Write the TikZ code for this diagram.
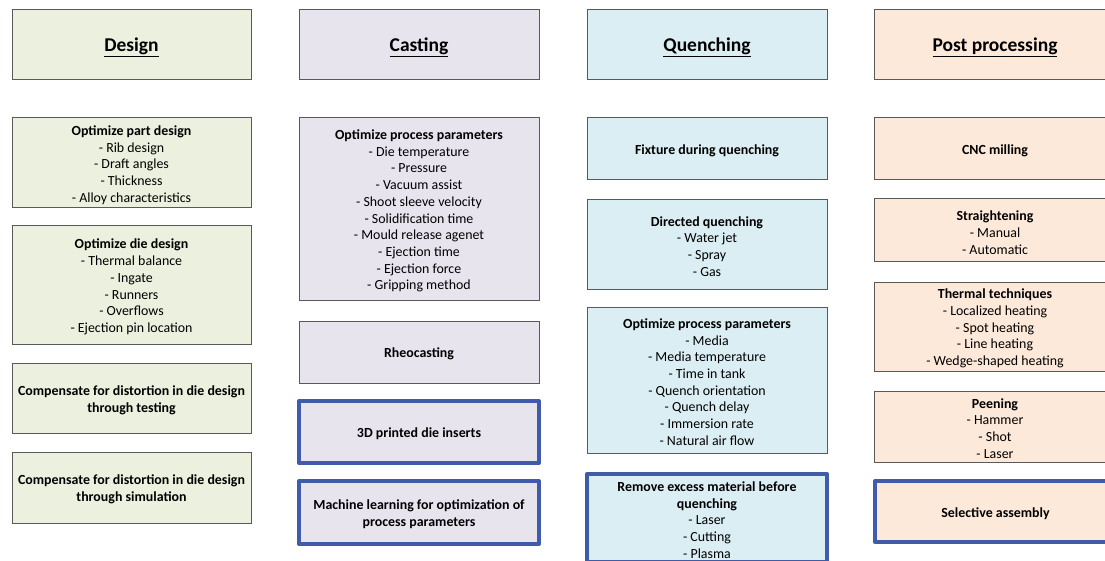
\documentclass[tikz,border=0pt]{standalone}
\usepackage{fontspec}
\setmainfont{Carlito}
\definecolor{dgreen}{HTML}{EBF1DE}
\definecolor{dlav}{HTML}{E8E4EE}
\definecolor{dblue}{HTML}{DBEEF4}
\definecolor{dpeach}{HTML}{FDE9D9}
\definecolor{bgray}{HTML}{595959}
\definecolor{bblue}{HTML}{3F5BA9}
\tikzset{
  box/.style={draw=bgray, line width=1pt, inner sep=0pt},
  txt/.style={inner sep=0pt, align=center, font=\fontsize{13.9}{16.7}\selectfont},
  htxt/.style={inner sep=0pt, align=center, font=\fontsize{19.5}{22}\selectfont\bfseries},
  hl/.style={draw=bblue, line width=4pt, line join=round},
  gr/.style={fill=dgreen}, lv/.style={fill=dlav}, bl/.style={fill=dblue}, pc/.style={fill=dpeach}
}
\newcommand\bx[7]{\node[box,#6,minimum width={#4-#2},minimum height={#5-#3}] (#1) at ({(#2+#4)/2},{(#3+#5)/2}) {};
  \node[txt] (#1t) at ([yshift=-2pt]#1.center) {#7};}
\newcommand\hx[7]{\node[box,#6,minimum width={#4-#2},minimum height={#5-#3}] (#1) at ({(#2+#4)/2},{(#3+#5)/2}) {};
  \node[htxt] (#1t) at ([yshift=-2pt]#1.center) {#7};}
\begin{document}
\begin{tikzpicture}[x=1pt,y=-1pt]
\useasboundingbox (0,0) rectangle (1105,561);
\clip (0,0) rectangle (1105,561);
\fill[white] (0,0) rectangle (1105,561);
% headers
\hx{h1}{12}{10}{251}{80}{gr}{\underline{Design}}
\hx{h2}{299}{10}{539}{80}{lv}{\underline{Casting}}
\hx{h3}{587}{10}{827}{80}{bl}{\underline{Quenching}}
\hx{h4}{874}{10}{1116}{80}{pc}{\underline{Post processing}}
% Design
\bx{d1}{12}{118}{251}{208}{gr}{\textbf{Optimize part design}\\- Rib design\\- Draft angles\\- Thickness\\- Alloy characteristics}
\bx{d2}{12}{226}{251}{344}{gr}{\textbf{Optimize die design}\\- Thermal balance\\- Ingate\\- Runners\\- Overflows\\- Ejection pin location}
\bx{d3}{12}{363}{251}{433}{gr}{\textbf{Compensate for distortion in die design}\\\textbf{through testing}}
\bx{d4}{12}{452}{251}{523}{gr}{\textbf{Compensate for distortion in die design}\\\textbf{through simulation}}
% Casting
\bx{c1}{299}{118}{539}{300}{lv}{\textbf{Optimize process parameters}\\- Die temperature\\- Pressure\\- Vacuum assist\\- Shoot sleeve velocity\\- Solidification time\\- Mould release agenet\\- Ejection time\\- Ejection force\\- Gripping method}
\bx{c2}{299}{321}{539}{383}{lv}{\textbf{Rheocasting}}
\bx{c3}{299}{401}{539}{463}{lv,hl}{\textbf{3D printed die inserts}}
\bx{c4}{299}{481}{539}{544}{lv,hl}{\textbf{Machine learning for optimization of}\\\textbf{process parameters}}
% Quenching
\bx{q1}{587}{118}{827}{180}{bl}{\textbf{Fixture during quenching}}
\bx{q2}{587}{200}{827}{289}{bl}{\textbf{Directed quenching}\\- Water jet\\- Spray\\- Gas}
\bx{q3}{587}{307}{827}{453}{bl}{\textbf{Optimize process parameters}\\- Media\\- Media temperature\\- Time in tank\\- Quench orientation\\- Quench delay\\- Immersion rate\\- Natural air flow}
\bx{q4}{587}{474}{827}{562}{bl,hl}{\textbf{Remove excess material before}\\\textbf{quenching}\\- Laser\\- Cutting\\- Plasma}
% Post processing
\bx{p1}{874}{118}{1116}{180}{pc}{\textbf{CNC milling}}
\bx{p2}{874}{199}{1116}{262}{pc}{\textbf{Straightening}\\- Manual\\- Automatic}
\bx{p3}{874}{282}{1116}{371}{pc}{\textbf{Thermal techniques}\\- Localized heating\\- Spot heating\\- Line heating\\- Wedge-shaped heating}
\bx{p4}{874}{391}{1116}{462}{pc}{\textbf{Peening}\\- Hammer\\- Shot\\- Laser}
\bx{p5}{875}{481}{1116}{542}{pc,hl}{\textbf{Selective assembly}}
\end{tikzpicture}
\end{document}
